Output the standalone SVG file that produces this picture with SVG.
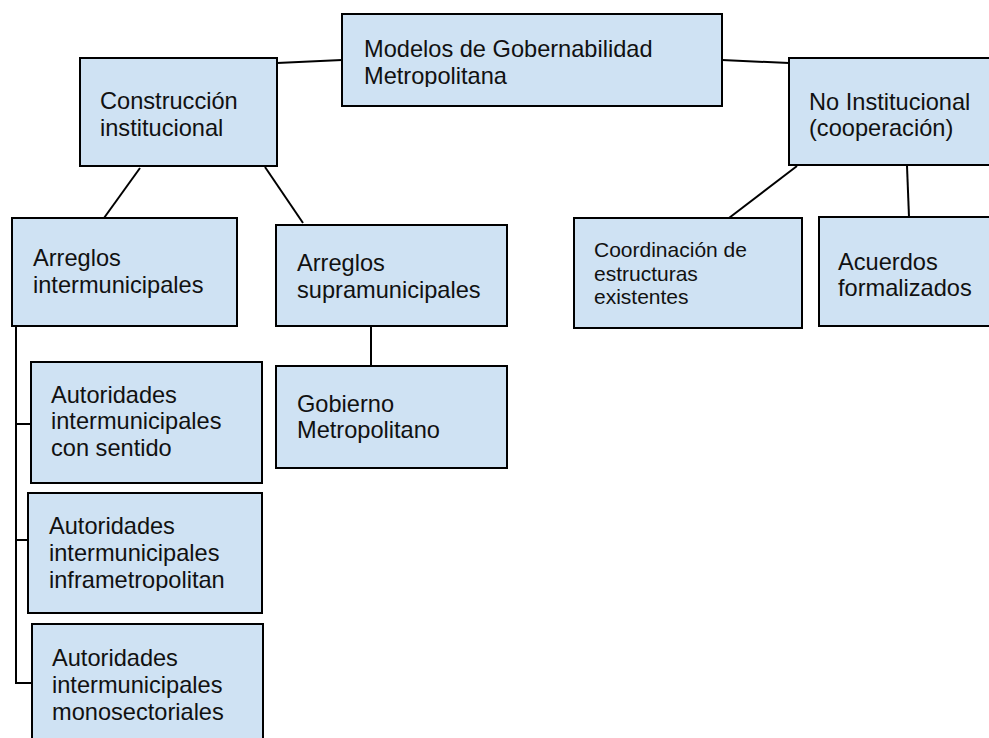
<svg xmlns="http://www.w3.org/2000/svg" width="989" height="738" viewBox="0 0 989 738">
<style>
.box{fill:#cfe2f3;stroke:#000;stroke-width:2}
.t{font-family:"Liberation Sans",Arial,sans-serif;font-size:23.6px;fill:#111}
.s{font-family:"Liberation Sans",Arial,sans-serif;font-size:21px;fill:#111}
.c{stroke:#000;stroke-width:2;fill:none}
</style>
<defs>
<clipPath id="clipTop"><rect x="342" y="14" width="380" height="73"/></clipPath>
<clipPath id="clipB2"><rect x="28" y="493" width="234" height="98"/></clipPath>
</defs>
<rect width="989" height="738" fill="#fff"/>
<g id="connectors">
<line class="c" x1="277" y1="63" x2="342" y2="60"/>
<line class="c" x1="722" y1="60" x2="789" y2="63"/>
<line class="c" x1="140" y1="168" x2="104" y2="218"/>
<line class="c" x1="265" y1="167" x2="303" y2="223"/>
<line class="c" x1="797" y1="166" x2="729" y2="218"/>
<line class="c" x1="907" y1="166" x2="909" y2="217"/>
<line class="c" x1="371" y1="326" x2="371" y2="366"/>
<polyline class="c" points="16,326 16,683 33,683"/>
<line class="c" x1="16" y1="424" x2="33" y2="424"/>
<line class="c" x1="16" y1="540" x2="33" y2="540"/>
</g>
<g id="modelos">
<rect class="box" x="342" y="14" width="380" height="92"/>
<g clip-path="url(#clipTop)"><text class="t" x="364" y="57">Modelos de Gobernabilidad</text><text class="t" x="364" y="84">Metropolitana</text></g>
</g>
<g id="construccion">
<rect class="box" x="80" y="58" width="197" height="108"/>
<text class="t" x="100" y="109">Construcción</text><text class="t" x="100" y="136">institucional</text>
</g>
<g id="noinst">
<rect class="box" x="789" y="58" width="210" height="107"/>
<text class="t" x="809" y="110">No Institucional</text><text class="t" x="809" y="136">(cooperación)</text>
</g>
<g id="arreglos-inter">
<rect class="box" x="12" y="218" width="225" height="108"/>
<text class="t" x="33" y="266">Arreglos</text><text class="t" x="33" y="293">intermunicipales</text>
</g>
<g id="arreglos-supra">
<rect class="box" x="276" y="225" width="231" height="101"/>
<text class="t" x="297" y="271">Arreglos</text><text class="t" x="297" y="298">supramunicipales</text>
</g>
<g id="coordinacion">
<rect class="box" x="574" y="218" width="228" height="110"/>
<text class="s" x="594" y="257">Coordinación de</text><text class="s" x="594" y="281">estructuras</text><text class="s" x="594" y="304">existentes</text>
</g>
<g id="acuerdos">
<rect class="box" x="819" y="217" width="180" height="109"/>
<text class="t" x="838" y="270">Acuerdos</text><text class="t" x="838" y="296">formalizados</text>
</g>
<g id="gobierno">
<rect class="box" x="276" y="366" width="231" height="102"/>
<text class="t" x="297" y="412">Gobierno</text><text class="t" x="297" y="438">Metropolitano</text>
</g>
<g id="aut1">
<rect class="box" x="31" y="362" width="231" height="121"/>
<text class="t" x="51" y="403">Autoridades</text><text class="t" x="51" y="429">intermunicipales</text><text class="t" x="51" y="456">con sentido</text>
</g>
<g id="aut2">
<rect class="box" x="28" y="493" width="234" height="120"/>
<g clip-path="url(#clipB2)"><text class="t" x="49" y="534">Autoridades</text><text class="t" x="49" y="561">intermunicipales</text><text class="t" x="49" y="588">inframetropolitan</text></g>
</g>
<g id="aut3">
<rect class="box" x="32" y="624" width="231" height="120"/>
<text class="t" x="52" y="666">Autoridades</text><text class="t" x="52" y="693">intermunicipales</text><text class="t" x="52" y="720">monosectoriales</text>
</g>
</svg>
